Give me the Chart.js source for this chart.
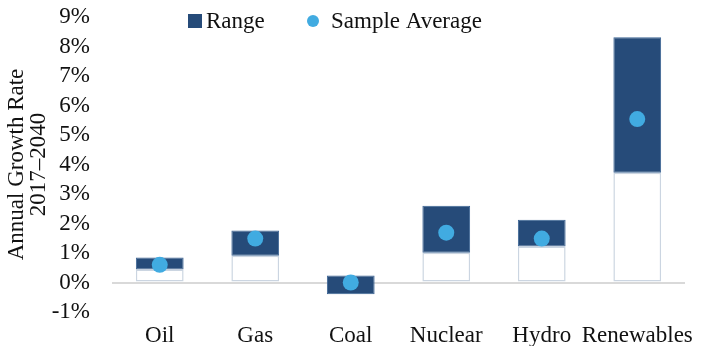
<!DOCTYPE html>
<html>
<head>
<meta charset="utf-8">
<script src="https://cdn.jsdelivr.net/npm/chart.js@4"></script>
<style>
  html, body { margin: 0; padding: 0; background: #fff; }
  #wrap { width: 707px; height: 346px; }
</style>
</head>
<body>
<div id="wrap"><canvas id="chart"></canvas></div>
<script>
const categories = ['Oil', 'Gas', 'Coal', 'Nuclear', 'Hydro', 'Renewables'];
const rangeLow  = [0.44, 0.91, -0.40, 1.01, 1.22, 3.72];
const rangeHigh = [0.85, 1.76, 0.24, 2.60, 2.13, 8.31];
const sampleAvg = [0.60, 1.49, 0.00, 1.69, 1.49, 5.54];
const yTicks = [-1, 0, 1, 2, 3, 4, 5, 6, 7, 8, 9];

const FONT = "'Liberation Serif', 'DejaVu Serif', serif";
const dark = '#264b79';
const light = '#41abe1';

// legend drawn on top of plot, like the original
const legendPlugin = {
  id: 'topLegend',
  afterDraw(chart) {
    const c = chart.ctx;
    c.save();
    c.font = '23px ' + FONT;
    c.textBaseline = 'middle';
    c.fillStyle = dark;
    c.fillRect(188, 14, 14, 14);
    c.fillStyle = '#111';
    c.fillText('Range', 206, 22);
    c.fillStyle = light;
    c.beginPath();
    c.arc(313, 21, 6, 0, Math.PI * 2);
    c.fill();
    c.fillStyle = '#111';
    c.fillText('Sample Average', 331, 22);
    c.restore();
  }
};

const baseData = rangeLow.map(v => v > 0 ? v : 0);
const rangeData = rangeLow.map((v, i) => [v, rangeHigh[i]]);

new Chart(document.getElementById('chart'), {
  type: 'bar',
  data: {
    labels: categories,
    datasets: [
      {
        type: 'line',
        label: 'Sample Average',
        data: sampleAvg,
        showLine: false,
        pointRadius: 8,
        pointHoverRadius: 8,
        pointBackgroundColor: light,
        pointBorderWidth: 0,
        order: 0
      },
      {
        label: 'Range',
        data: rangeData,
        backgroundColor: dark,
        borderColor: '#3d6595',
        borderWidth: 1,
        borderSkipped: false,
        categoryPercentage: 1,
        barPercentage: 0.5,
        grouped: false,
        order: 1
      },
      {
        label: 'base',
        data: baseData,
        backgroundColor: '#ffffff',
        borderColor: '#cbd5e1',
        borderWidth: 1.5,
        borderSkipped: false,
        categoryPercentage: 1,
        barPercentage: 0.5,
        grouped: false,
        order: 2
      }
    ]
  },
  options: {
    responsive: true,
    maintainAspectRatio: false,
    animation: false,
    layout: { padding: { top: 17, right: 22, left: 6, bottom: 0 } },
    plugins: {
      legend: { display: false },
      tooltip: { enabled: false }
    },
    scales: {
      x: {
        afterFit(axis) { axis.height = 34; },
        border: { display: false },
        grid: { display: false },
        ticks: {
          color: '#111', font: { family: FONT, size: 23 }, padding: 2,
          maxRotation: 0, minRotation: 0, autoSkip: false
        }
      },
      y: {
        min: -1,
        max: 9,
        afterBuildTicks(axis) { axis.ticks = yTicks.map(v => ({ value: v })); },
        afterFit(axis) { axis.width = 106; },
        border: { display: false },
        grid: {
          drawTicks: true,
          tickLength: 22,
          tickColor: 'rgba(0,0,0,0)',
          lineWidth: 2,
          color: ctx => ctx.tick && ctx.tick.value === 0 ? '#d9d9d9' : 'rgba(0,0,0,0)'
        },
        ticks: {
          color: '#111',
          font: { family: FONT, size: 23 },
          padding: 0,
          autoSkip: false,
          callback: v => v + '%'
        },
        title: {
          display: true,
          text: ['Annual Growth Rate', '2017\u20132040'],
          color: '#111',
          font: { family: FONT, size: 23, lineHeight: 0.95 },
          padding: 0
        }
      }
    }
  },
  plugins: [legendPlugin]
});
</script>
</body>
</html>
